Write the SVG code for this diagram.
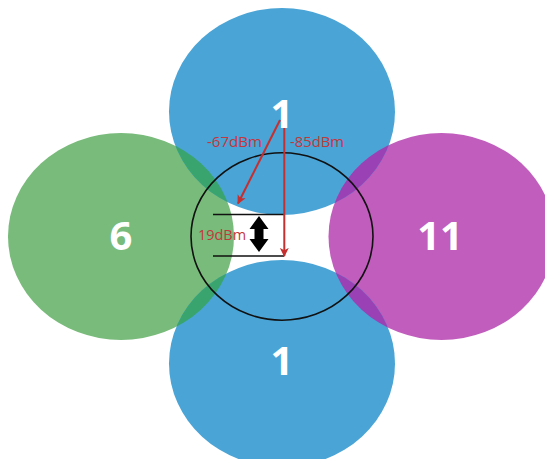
<svg xmlns="http://www.w3.org/2000/svg" width="545" height="459" viewBox="0 0 545 459">
<style>
.num{font-family:"Open Sans","Liberation Sans",sans-serif;font-weight:bold;font-size:40px;fill:#ffffff;text-anchor:middle}
.lbl{font-family:"Open Sans","Liberation Sans",sans-serif;font-size:15px;fill:#c4373a}
.red{stroke:#c62f2f;stroke-width:2;fill:none}
</style>
<defs>
<marker id="rh" viewBox="0 0 10 10" refX="9" refY="5" markerWidth="4.8" markerHeight="4.5" orient="auto" markerUnits="strokeWidth">
<path d="M0,0 L10,5 L0,10 L2.5,5 Z" fill="#c62f2f"/>
</marker>
<clipPath id="cTop"><ellipse cx="282" cy="111.5" rx="113" ry="103.5"/></clipPath>
<clipPath id="cBot"><ellipse cx="282" cy="363.5" rx="113" ry="103.5"/></clipPath>
</defs>
<rect width="545" height="459" fill="#ffffff"/>
<g id="ch6"><ellipse cx="121" cy="236.5" rx="113" ry="103.5" fill="#78bb7a"/></g>
<g id="ch11"><ellipse cx="441.5" cy="236.5" rx="113" ry="103.5" fill="#c15dbd"/></g>
<g id="ch1top"><ellipse cx="282" cy="111.5" rx="113" ry="103.5" fill="#4aa4d6"/></g>
<g id="ch1bottom"><ellipse cx="282" cy="363.5" rx="113" ry="103.5" fill="#4aa4d6"/></g>
<g id="overlaps">
<ellipse cx="121" cy="236.5" rx="113" ry="103.5" fill="#3aa46e" clip-path="url(#cTop)"/>
<ellipse cx="121" cy="236.5" rx="113" ry="103.5" fill="#3aa46e" clip-path="url(#cBot)"/>
<ellipse cx="441.5" cy="236.5" rx="113" ry="103.5" fill="#9a42b5" clip-path="url(#cTop)"/>
<ellipse cx="441.5" cy="236.5" rx="113" ry="103.5" fill="#9a42b5" clip-path="url(#cBot)"/>
</g>
<g id="labels">
<text class="num" x="282" y="128">1</text>
<text class="num" x="121" y="250">6</text>
<text class="num" x="440" y="250">11</text>
<text class="num" x="282" y="375">1</text>
</g>
<g id="zone">
<ellipse cx="282" cy="236.5" rx="91" ry="83.7" fill="none" stroke="#111111" stroke-width="1.6"/>
<line x1="213" y1="214.5" x2="284" y2="214.5" stroke="#111111" stroke-width="1.3"/>
<line x1="213" y1="256" x2="284" y2="256" stroke="#111111" stroke-width="1.3"/>
</g>
<g id="connectors">
<line class="red" x1="280" y1="120" x2="238" y2="203.5" marker-end="url(#rh)"/>
<line class="red" x1="284.3" y1="128" x2="284.3" y2="256" marker-end="url(#rh)"/>
<path d="M259,216 L268.5,229 L263.5,229 L263.5,239 L268.5,239 L259,252 L249.5,239 L254.5,239 L254.5,229 L249.5,229 Z" fill="#000000"/>
</g>
<g id="dbm">
<text class="lbl" x="207" y="147.3" textLength="55" lengthAdjust="spacingAndGlyphs">-67dBm</text>
<text class="lbl" x="290" y="147.3" textLength="54" lengthAdjust="spacingAndGlyphs">-85dBm</text>
<text class="lbl" x="198" y="240" textLength="48" lengthAdjust="spacingAndGlyphs">19dBm</text>
</g>
</svg>
